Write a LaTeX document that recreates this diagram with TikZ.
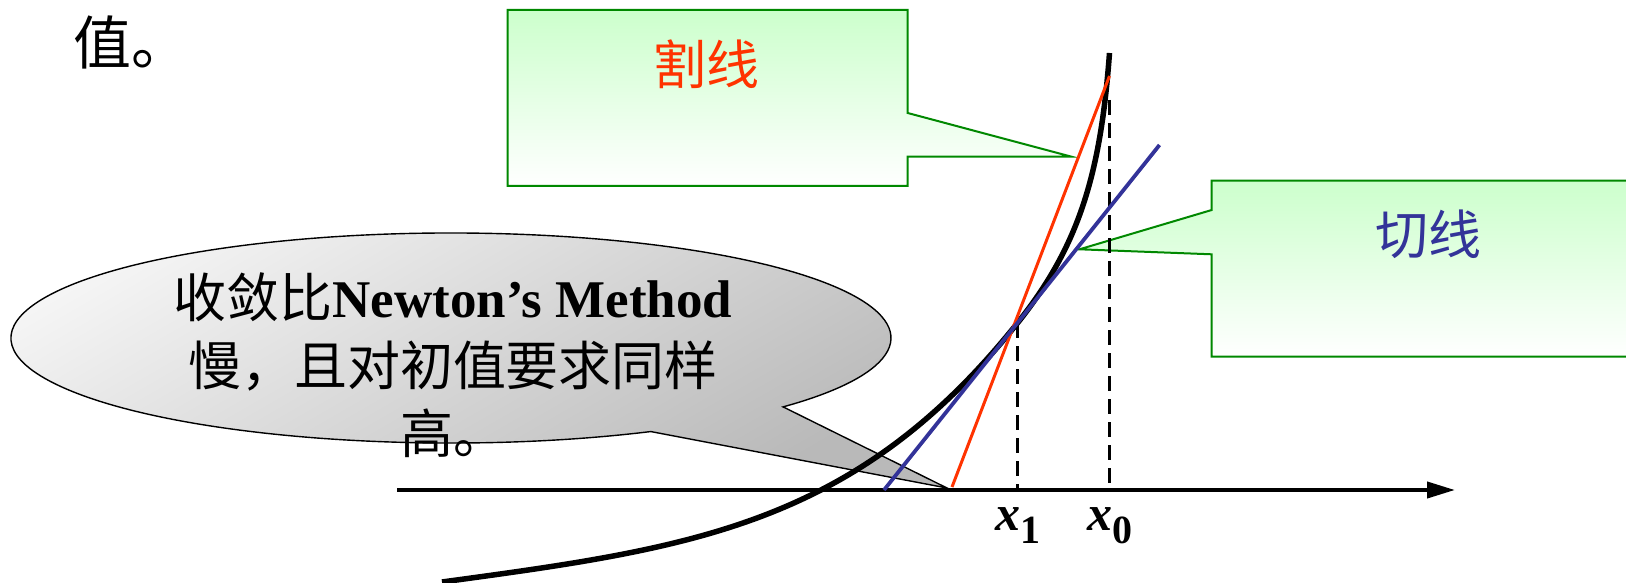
\documentclass[tikz,border=0pt]{standalone}
\usepackage{fontspec}
\setmainfont{Liberation Serif}
\newfontfamily\cjk{Noto Sans CJK SC}
\usetikzlibrary{arrows.meta}
\definecolor{secred}{RGB}{255,51,0}
\definecolor{tanblue}{RGB}{51,51,153}
\definecolor{boxgreen}{RGB}{0,136,0}
\definecolor{palegreen}{RGB}{204,255,204}

\begin{document}
\begin{tikzpicture}[x=1pt, y=-1pt,
    greenbox/.style={draw=boxgreen, line width=2pt, top color=palegreen, bottom color=white},
    vline/.style={dash pattern=on 15pt off 8pt, line width=3.3pt},
    zh/.style={font=\cjk\fontsize{53}{68}\selectfont},
    xlab/.style={anchor=base, inner sep=0, font=\fontsize{50}{50}\selectfont\bfseries\itshape}]
\useasboundingbox (0,0) rectangle (1626,583);

\node[font=\cjk\fontsize{58}{58}\selectfont, anchor=west, inner sep=0] (prev) at (73,42) {值。};

% callouts
\coordinate (bc) at (451,338);
\coordinate (btip) at (947,488);
\path[draw, line width=1.4pt, top color=gray!6, bottom color=gray!55, shading angle=30]
    ([shift={(63:440 and 105)}]bc) arc[start angle=63, end angle=401, x radius=440, y radius=105] -- (btip) -- cycle;
\coordinate (stip) at (1071.5,156.7);
\path[greenbox] (507.7,10) -- (907.7,10) -- (907.7,113) -- (stip) -- (907.7,156.7) -- (907.7,186) -- (507.7,186) -- cycle;
\coordinate (ttip) at (1079.5,249.3);
\path[greenbox] (1211.7,180.7) -- (1650,180.7) -- (1650,356.7) -- (1211.7,356.7) -- (1211.7,254.3) -- (ttip) -- (1211.7,210) -- cycle;

% axis and curves
\coordinate (o) at (397,490);
\coordinate (xend) at (1455,490);
\coordinate (p1) at (1017.5,323);
\coordinate (x1) at (1017.5,490);
\coordinate (p0) at (1109.5,100);
\coordinate (x0) at (1109.5,490);
\coordinate (sa) at (1109.5,76);
\coordinate (sb) at (952,487);
\coordinate (ta) at (1159.5,145);
\coordinate (tb) at (884,490);
\coordinate (fa) at (442,582);
\coordinate (fb) at (1109.5,53);
\draw[line width=4pt, -{Triangle[length=28pt, width=16pt]}] (o) -- (xend);
\draw[vline] (p1) -- (x1);
\draw[vline] (p0) -- (x0);
\draw[line width=5.5pt] (fa) .. controls (692,548) and (855.3,526) .. (p1)
    .. controls (1079.9,244.9) and (1100.6,172.6) .. (fb);
\draw[secred, line width=3pt] (sa) -- (sb);
\draw[tanblue, line width=3.8pt] (ta) -- (tb);

% texts
\node[zh, align=center] (note) at (453,365) {收敛比{\rmfamily\bfseries Newton’s Method}\\慢，且对初值要求同样\\高。};
\node[zh, text=secred] (slab) at (706,64) {割线};
\node[zh, text=tanblue] (tlab) at (1428,234) {切线};
\node[xlab] (l1) at (1018,530) {x\raisebox{-13pt}{\fontsize{40}{40}\selectfont\upshape 1}};
\node[xlab] (l0) at (1110,530) {x\raisebox{-13pt}{\fontsize{40}{40}\selectfont\upshape 0}};
\end{tikzpicture}
\end{document}
